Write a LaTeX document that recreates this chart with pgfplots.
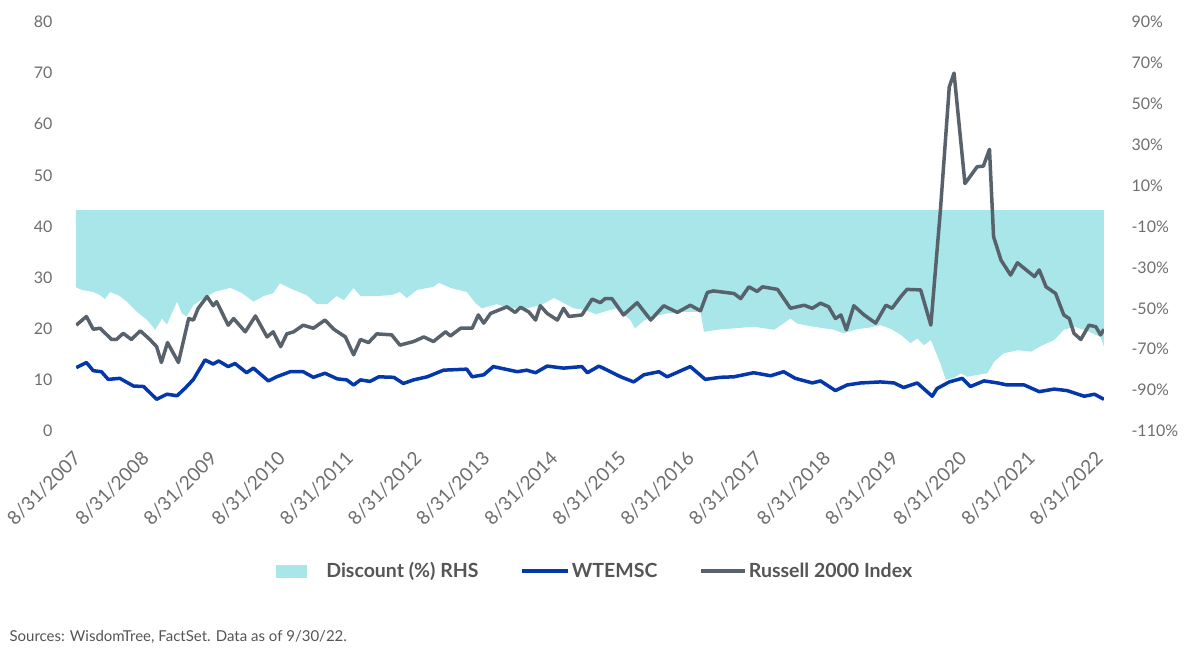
\documentclass[border=0pt]{standalone}
\usepackage{pgfplots}
\pgfplotsset{compat=1.18}
\usepackage{fontspec}
\setmainfont{Lato}
\definecolor{cyanfill}{RGB}{168,230,234}
\definecolor{wblue}{RGB}{4,56,170}
\definecolor{rgray}{RGB}{88,98,108}
\definecolor{ticktext}{RGB}{110,110,110}
\definecolor{legtext}{RGB}{85,85,85}
\begin{document}
\begin{tikzpicture}[x=1pt,y=1pt]
\path[use as bounding box] (-76,-226) rectangle (1124,431);
% right axis: discount
\begin{axis}[
  at={(0,0)}, anchor=south west,
  scale only axis, width=1028pt, height=409pt,
  xmin=2007.667, xmax=2022.75,
  ymin=-110, ymax=90,
  axis y line*=right, hide x axis,
  y axis line style={draw=none},
  major tick length=0pt,
  ytick={-110,-90,...,90},
  yticklabel={\pgfmathprintnumber[assume math mode=true]{\tick}\%},
  yticklabel style={font=\fontsize{16}{16}\selectfont, text=ticktext, xshift=24pt, anchor=west},
]
\addplot[fill=cyanfill, draw=none] coordinates {
(2007.667,-2)
(2007.667,-39.7) (2007.75,-41) (2007.92,-42) (2008.02,-43.5) (2008.09,-45.5) (2008.17,-42)
(2008.31,-44) (2008.41,-46.7) (2008.56,-51.7) (2008.71,-55.7) (2008.83,-60.5) (2008.93,-55)
(2009.00,-58) (2009.15,-46.7) (2009.22,-52.5) (2009.29,-54) (2009.39,-48.5) (2009.54,-45)
(2009.70,-42) (2009.93,-40) (2010.10,-42.5) (2010.27,-46.7) (2010.42,-44) (2010.56,-42.6)
(2010.66,-37.8) (2010.86,-41) (2011.05,-43.5) (2011.20,-48) (2011.35,-48) (2011.49,-44)
(2011.60,-46) (2011.74,-40) (2011.84,-44) (2012.08,-44) (2012.30,-43.5) (2012.42,-42) (2012.52,-45)
(2012.67,-41) (2012.91,-39.5) (2012.99,-37.5) (2013.16,-40) (2013.40,-42) (2013.53,-47.5)
(2013.62,-50) (2013.84,-48) (2014.04,-50) (2014.28,-50) (2014.48,-48.5) (2014.68,-45)
(2014.80,-47) (2014.97,-50) (2015.14,-50.8) (2015.30,-53) (2015.41,-51.7) (2015.60,-50) (2015.80,-55.7)
(2015.87,-59.8) (2016.00,-56) (2016.14,-54) (2016.34,-52.5) (2016.58,-51.7) (2016.83,-51.7)
(2016.88,-61.5) (2017.07,-60.5) (2017.32,-59.8) (2017.61,-59) (2017.91,-60.5) (2018.15,-55)
(2018.25,-57.5) (2018.49,-59) (2018.79,-60.5) (2018.93,-62.2) (2019.13,-60.2) (2019.30,-59.5) (2019.47,-58.2)
(2019.62,-60) (2019.77,-63) (2019.91,-67) (2020.01,-64.7) (2020.11,-68) (2020.21,-65.5) (2020.35,-77)
(2020.43,-85) (2020.55,-84) (2020.65,-81.8) (2020.75,-83.5) (2020.90,-82.5) (2021.04,-81.8) (2021.14,-76)
(2021.28,-72) (2021.48,-70.5) (2021.68,-71.2) (2021.82,-68.5) (2022.02,-65.5) (2022.16,-60.5)
(2022.31,-59) (2022.50,-61) (2022.70,-64) (2022.75,-68.8)
(2022.75,-2)
};
\end{axis}
% left axis: indices
\begin{axis}[
  at={(0,0)}, anchor=south west,
  scale only axis, width=1028pt, height=409pt,
  xmin=2007.667, xmax=2022.75,
  ymin=0, ymax=80,
  axis y line*=left, axis x line*=bottom,
  axis line style={draw=none},
  major tick length=0pt,
  ytick={0,10,...,80},
  /pgf/number format/assume math mode=true,
  yticklabel style={font=\fontsize{16}{16}\selectfont, text=ticktext, xshift=-20pt, anchor=east},
  xtick={2007.667,2008.667,2009.667,2010.667,2011.667,2012.667,2013.667,2014.667,2015.667,2016.667,2017.667,2018.667,2019.667,2020.667,2021.667,2022.667},
  xticklabels={8/31/2007,8/31/2008,8/31/2009,8/31/2010,8/31/2011,8/31/2012,8/31/2013,8/31/2014,8/31/2015,8/31/2016,8/31/2017,8/31/2018,8/31/2019,8/31/2020,8/31/2021,8/31/2022},
  xticklabel style={font=\fontsize{19}{19}\selectfont, text=ticktext, xshift=-4pt, yshift=-14pt, rotate=45, anchor=north east},
  legend style={at={(0.505,-0.342)}, anchor=center, draw=none, fill=none,
    font=\fontsize{19.5}{19.5}\selectfont\bfseries, text=legtext,
    legend columns=3, /tikz/every even column/.append style={column sep=40pt},
    nodes={inner sep=2pt}},
  legend cell align=left,
]
\addlegendimage{legend image code/.code={\fill[cyanfill] (-4pt,-6pt) rectangle (26pt,6pt); \path[draw=none,fill=none] (0pt,-1pt) rectangle (44pt,1pt);}}
\addlegendentry{Discount (\%) RHS}
\addplot[wblue, line width=3.5pt, line join=round, legend image code/.code={\draw[wblue, line width=3.5pt] (0pt,0pt) -- (46pt,0pt);}] coordinates {
(2007.67,12.4) (2007.82,13.4) (2007.92,11.8) (2008.04,11.6) (2008.14,10.1) (2008.31,10.3)
(2008.51,8.8) (2008.66,8.7) (2008.85,6.2) (2009.00,7.2) (2009.15,6.9) (2009.27,8.4)
(2009.39,10.1) (2009.56,13.9) (2009.68,13.1) (2009.76,13.7) (2009.90,12.6) (2010.00,13.2)
(2010.17,11.4) (2010.27,12.3) (2010.49,9.8) (2010.61,10.6) (2010.81,11.6) (2011.00,11.6)
(2011.15,10.5) (2011.32,11.3) (2011.50,10.2) (2011.64,10.0) (2011.74,9.0) (2011.84,10.0)
(2011.98,9.7) (2012.11,10.6) (2012.33,10.5) (2012.47,9.3) (2012.62,10.0) (2012.82,10.6)
(2013.06,11.9) (2013.40,12.1) (2013.48,10.6) (2013.65,11.0) (2013.79,12.6) (2014.14,11.6)
(2014.28,11.9) (2014.41,11.4) (2014.58,12.7) (2014.82,12.3) (2015.09,12.6) (2015.17,11.4)
(2015.34,12.7) (2015.66,10.6) (2015.85,9.6) (2016.00,11.0) (2016.22,11.6) (2016.34,10.6)
(2016.68,12.6) (2016.90,10.1) (2017.12,10.5) (2017.32,10.6) (2017.61,11.4) (2017.86,10.8)
(2018.05,11.6) (2018.22,10.3) (2018.47,9.4) (2018.59,9.8) (2018.81,7.9) (2018.98,9.0)
(2019.18,9.4) (2019.47,9.6) (2019.67,9.4) (2019.81,8.5) (2020.01,9.4) (2020.23,6.8)
(2020.30,8.3) (2020.48,9.6) (2020.67,10.3) (2020.79,8.7) (2020.99,9.8) (2021.19,9.4)
(2021.33,9.0) (2021.58,9.0) (2021.80,7.7) (2022.02,8.2) (2022.21,7.9) (2022.46,6.8)
(2022.61,7.2) (2022.75,6.2)
};
\addlegendentry{WTEMSC}
\addplot[rgray, line width=3.5pt, line join=round, legend image code/.code={\draw[rgray, line width=3.5pt] (0pt,0pt) -- (44pt,0pt);}] coordinates {
(2007.67,20.7) (2007.82,22.4) (2007.92,19.9) (2008.02,20.1) (2008.19,17.9) (2008.26,17.9)
(2008.36,19.1) (2008.48,17.9) (2008.61,19.6) (2008.75,17.9) (2008.85,16.5) (2008.92,13.4)
(2009.01,17.3) (2009.17,13.4) (2009.32,22.0) (2009.39,21.7) (2009.46,24.0) (2009.59,26.3)
(2009.68,24.5) (2009.73,25.3) (2009.90,20.7) (2009.98,22.0) (2010.15,19.4) (2010.30,22.5)
(2010.47,18.4) (2010.56,19.4) (2010.67,16.5) (2010.76,19.0) (2010.86,19.4) (2011.00,20.7)
(2011.15,20.1) (2011.32,21.7) (2011.45,19.9) (2011.62,18.4) (2011.74,14.9) (2011.84,17.9)
(2011.96,17.3) (2012.08,19.0) (2012.30,18.8) (2012.42,16.8) (2012.62,17.5) (2012.77,18.4)
(2012.91,17.5) (2013.09,19.4) (2013.16,18.6) (2013.31,20.1) (2013.48,20.1) (2013.57,22.7)
(2013.65,21.1) (2013.75,23.0) (2013.99,24.3) (2014.11,23.2) (2014.19,24.2) (2014.31,23.3)
(2014.41,21.7) (2014.48,24.5) (2014.58,23.0) (2014.73,21.7) (2014.82,24.0) (2014.90,22.4)
(2015.09,22.7) (2015.24,25.8) (2015.36,25.1) (2015.43,25.9) (2015.53,25.9) (2015.70,22.7)
(2015.90,25.1) (2016.10,21.7) (2016.29,24.5) (2016.49,23.2) (2016.68,24.6) (2016.83,23.5)
(2016.93,27.1) (2017.02,27.4) (2017.32,26.9) (2017.42,25.9) (2017.54,28.2) (2017.66,27.3)
(2017.74,28.2) (2017.96,27.7) (2018.15,24.0) (2018.35,24.6) (2018.47,24.0) (2018.59,25.0)
(2018.71,24.3) (2018.81,22.0) (2018.89,22.7) (2018.97,19.8) (2019.08,24.5) (2019.23,22.7)
(2019.40,21.1) (2019.55,24.6) (2019.64,24.0) (2019.77,26.3) (2019.86,27.7) (2020.06,27.6)
(2020.21,20.7) (2020.35,43.2) (2020.48,67.3) (2020.55,70.0) (2020.71,48.4) (2020.89,51.7)
(2020.98,51.8) (2021.07,55.1) (2021.13,38.0) (2021.24,33.4) (2021.38,30.5) (2021.48,32.9)
(2021.73,30.2) (2021.80,31.5) (2021.90,28.2) (2022.04,26.9) (2022.16,22.7) (2022.24,22.0)
(2022.31,19.1) (2022.41,17.9) (2022.53,20.7) (2022.63,20.4) (2022.70,18.8) (2022.75,19.9)
};
\addlegendentry{Russell 2000 Index}
\end{axis}
\node[anchor=west, font=\fontsize{15}{15}\selectfont, text=legtext] at (-70,-206) {Sources: WisdomTree, FactSet. Data as of 9/30/22.};
\end{tikzpicture}
\end{document}
